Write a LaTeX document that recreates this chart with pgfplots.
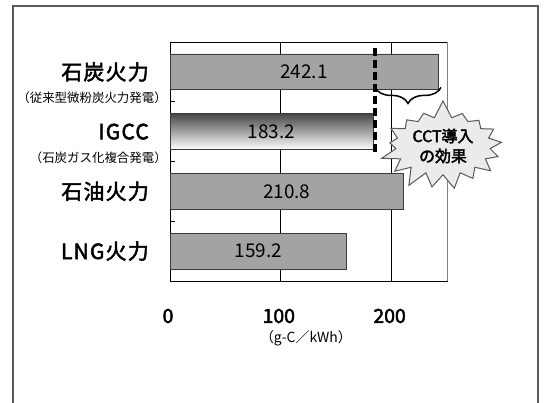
\documentclass[border=0pt]{standalone}
\usepackage{fontspec}
\setmainfont{Noto Sans CJK JP}
\newfontfamily\medfont{Noto Sans CJK JP}[FakeBold=2.4]
\usepackage{pgfplots}
\usepackage{pgfplotstable}
\pgfplotsset{compat=1.18}
\usetikzlibrary{decorations.pathreplacing, shapes.symbols}

\definecolor{barfill}{HTML}{A3A3A3}
\definecolor{bardraw}{HTML}{3A3A3A}
\definecolor{framegray}{HTML}{5A5A5A}

% CO2 emission intensity per generation type (g-C/kWh)
\pgfplotstableread{
pos v
1 242.1
2 183.2
3 210.8
4 159.2
}\emissions

\begin{document}
\begin{tikzpicture}
\path[use as bounding box] (0bp,0bp) rectangle (546bp,-403bp);
\draw[framegray, line width=1.2bp] (13bp,-403bp) -- (13bp,-6bp) -- (538bp,-6bp) -- (538bp,-403bp);

\begin{axis}[
  at={(170bp,-42bp)}, anchor=north west,
  width=277bp, height=239bp, scale only axis,
  xmin=0, xmax=250, ymin=0.5, ymax=4.5,
  y dir=reverse, clip=false,
  xtick={0,100,200}, ytick={1,2,3,4},
  yticklabels={石炭火力,IGCC,石油火力,LNG火力},
  minor ytick={1.5,2.5,3.5},
  major tick length=0pt, minor tick length=5bp,
  tick align=inside, ytick pos=left, xtick pos=bottom,
  tick style={black, line width=0.8bp},
  axis line style={black, line width=1bp},
  xmajorgrids, grid style={black, line width=0.9bp},
  /pgf/number format/assume math mode=true,
  yticklabel style={anchor=east, inner sep=0pt, xshift=-21bp,
    font=\fontsize{21}{21}\medfont\addfontfeature{LetterSpace=6}},
  xticklabel style={anchor=center, inner sep=0pt, yshift=-35bp, xshift=-2bp,
    font=\fontsize{19.5}{19.5}\medfont},
]
\addplot[xbar, bar width=0.6, bar shift=0pt, fill=barfill, draw=bardraw, line width=0.8bp]
  coordinates {(242.1,1) (210.8,3) (159.2,4)};
\addplot[xbar, bar width=0.6, bar shift=0pt, draw=bardraw, line width=0.8bp,
  top color=black!72, middle color=black!12, bottom color=white]
  coordinates {(183.2,2)};

% value labels centred inside each bar
\addplot[draw=none, mark=none, point meta=explicit,
  nodes near coords,
  /pgf/number format/fixed, /pgf/number format/fixed zerofill,
  /pgf/number format/precision=1,
  every node near coord/.append style={anchor=center, text=black,
    font=\fontsize{19}{19}\selectfont}]
  table[x expr=\thisrow{v}/2, y=pos, meta=v] {\emissions};

% CCT improvement marker
\draw[black, line width=3.5bp, dash pattern=on 8bp off 4bp]
  (axis cs:185,0.6) -- (axis cs:185,2.34);
\draw[black, line width=1.5bp, decorate,
  decoration={brace, mirror, amplitude=16bp}]
  (axis cs:185,1.26) -- (axis cs:244.6,1.26);

\node[anchor=east, inner sep=0pt, xshift=-3bp, font=\fontsize{12.5}{12.5}\selectfont]
  at (axis cs:0,1.43) {（従来型微粉炭火力発電）};
\node[anchor=east, inner sep=0pt, xshift=-3bp, font=\fontsize{12.5}{12.5}\selectfont]
  at (axis cs:0,2.44) {（石炭ガス化複合発電）};
\node[anchor=center, inner sep=0pt, yshift=-57bp, font=\fontsize{14}{14}\selectfont]
  at (axis cs:122.7,4.5) {（g-C／kWh）};
\end{axis}

\draw[gray, line width=1bp] (447bp,-42bp) -- (447bp,-281bp);

\node[starburst, random starburst=7, starburst point height=18bp,
  fill=black!8, draw=black!65, line width=1bp, inner sep=3bp,
  align=center, font=\fontsize{16}{20}\medfont]
  at (443bp,-146bp) {CCT導入\\の効果};
\end{tikzpicture}
\end{document}
